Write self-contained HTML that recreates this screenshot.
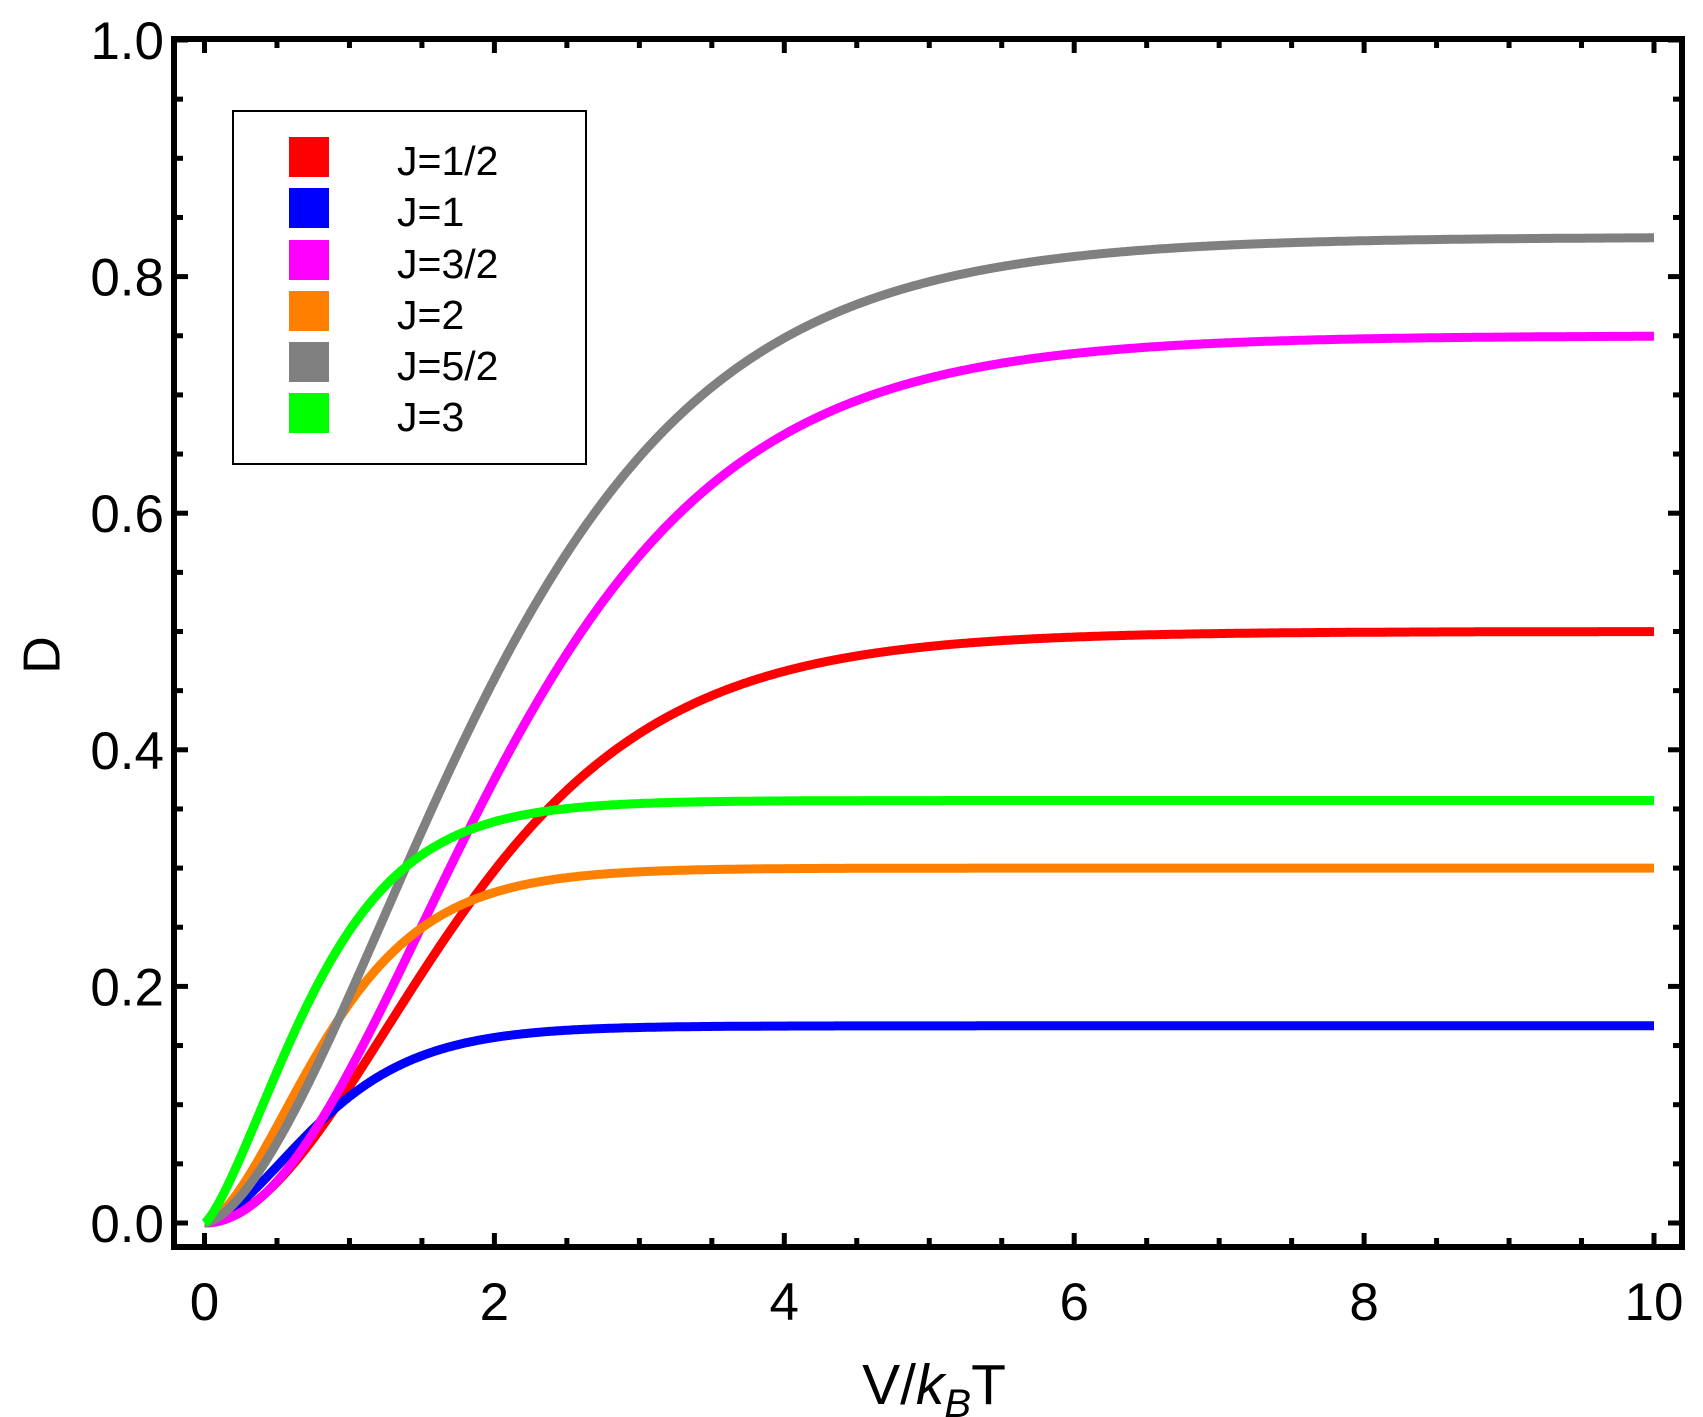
<!DOCTYPE html>
<html><head><meta charset="utf-8"><style>
html,body{margin:0;padding:0;background:#fff;}
svg{display:block;font-family:"Liberation Sans",Arial,sans-serif;}
</style></head><body>
<svg id="s" width="1703" height="1417" viewBox="0 0 1703 1417" xmlns="http://www.w3.org/2000/svg">
<defs><clipPath id="c"><rect x="177" y="42" width="1505" height="1203"/></clipPath></defs>
<g id="curves" clip-path="url(#c)" fill="none" stroke-width="9" stroke-linejoin="round"></g>
<rect x="174" y="39" width="1508" height="1208" fill="none" stroke="#000" stroke-width="6"/>
<g id="ticks" stroke="#000" stroke-width="5"></g>
<g font-size="53" fill="#000" text-anchor="end" id="ylab"></g>
<g font-size="53" fill="#000" text-anchor="middle" id="xlab"></g>
<text x="46" y="655" font-size="52" text-anchor="middle" transform="rotate(-90 46 655)" dominant-baseline="middle">D</text>
<text x="934" y="1404" font-size="57" text-anchor="middle">V/<tspan font-style="italic">k</tspan><tspan font-style="italic" font-size="40" dy="13">B</tspan><tspan dy="-13">T</tspan></text>
<rect x="233" y="111" width="353" height="353" fill="#fff" stroke="#000" stroke-width="2"/>
<g font-size="41" fill="#000">
<rect x="289" y="137" width="40" height="40" fill="#ff0000"/><text x="397" y="175">J=1/2</text>
<rect x="289" y="188" width="40" height="40" fill="#0000ff"/><text x="397" y="226">J=1</text>
<rect x="289" y="240" width="40" height="40" fill="#ff00ff"/><text x="397" y="278">J=3/2</text>
<rect x="289" y="291" width="40" height="40" fill="#ff8000"/><text x="397" y="329">J=2</text>
<rect x="289" y="342" width="40" height="40" fill="#808080"/><text x="397" y="380">J=5/2</text>
<rect x="289" y="393" width="40" height="40" fill="#00ff00"/><text x="397" y="431">J=3</text>
</g>
</svg>
<script>
var X=function(v){return 204.5+v*144.95;}, Y=function(v){return 1223-v*1183;};
var ns="http://www.w3.org/2000/svg";
function el(p,t,a){var e=document.createElementNS(ns,t);for(var k in a)e.setAttribute(k,a[k]);p.appendChild(e);return e;}
var series=[["#ff0000",0.5,2.0,1.9],["#0000ff",1/6,1.01,1.6],["#ff00ff",0.75,2.27,2],["#ff8000",0.3,1.05,1.6],["#808080",5/6,2.36,1.6],["#00ff00",5/14,1.02,1.3]];
var g=document.getElementById("curves");
series.forEach(function(s){var d="";for(var i=0;i<=1000;i++){var x=i/100;var v=s[1]*Math.pow(Math.tanh(x/s[2]),s[3]);d+=(i?"L":"M")+X(x).toFixed(1)+","+Y(v).toFixed(1);}el(g,"path",{d:d,stroke:s[0]});});
var t=document.getElementById("ticks");
for(var i=0;i<=20;i++){var x=X(i/2),L=(i%4==0)?14:9;el(t,"line",{x1:x,y1:1247,x2:x,y2:1247-L});el(t,"line",{x1:x,y1:39,x2:x,y2:39+L});}
for(var i=0;i<=20;i++){var y=Y(i*0.05),L=(i%4==0)?14:9;el(t,"line",{x1:174,y1:y,x2:174+L,y2:y});el(t,"line",{x1:1682,y1:y,x2:1682-L,y2:y});}
var yl=document.getElementById("ylab");
for(var i=0;i<=5;i++){var e=el(yl,"text",{x:164,y:Y(i*0.2)+19});e.textContent=(i*0.2).toFixed(1);}
var xl=document.getElementById("xlab");
for(var i=0;i<=5;i++){var e=el(xl,"text",{x:X(i*2),y:1320});e.textContent=String(i*2);}
</script>
</body></html>
